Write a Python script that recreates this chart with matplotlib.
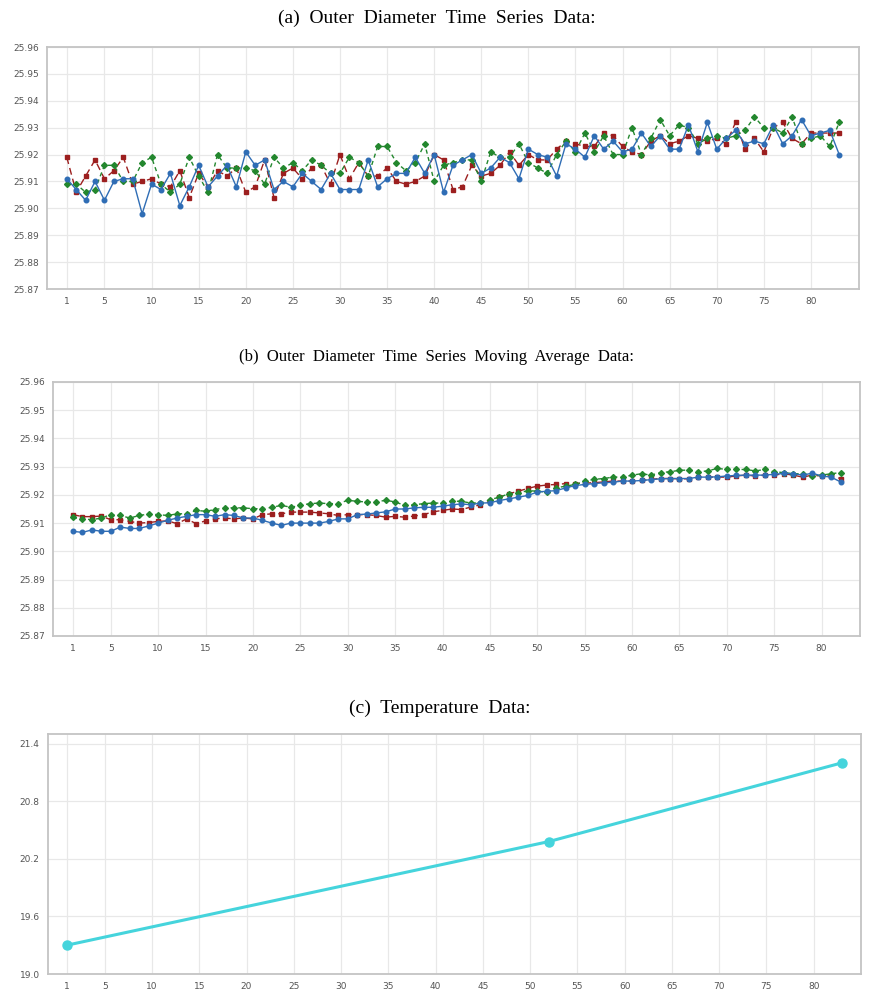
import matplotlib
matplotlib.use("Agg")
import matplotlib.pyplot as plt

# ---------------- data ----------------
x_a = list(range(1, 84))
od_blue = [25.911, 25.907, 25.903, 25.910, 25.903, 25.910, 25.911, 25.911, 25.898, 25.909,
           25.907, 25.913, 25.901, 25.908, 25.916, 25.908, 25.912, 25.916, 25.908, 25.921,
           25.916, 25.918, 25.907, 25.910, 25.908, 25.913, 25.910, 25.907, 25.913, 25.907,
           25.907, 25.907, 25.918, 25.908, 25.911, 25.913, 25.913, 25.919, 25.913, 25.920,
           25.906, 25.916, 25.918, 25.920, 25.913, 25.915, 25.919, 25.917, 25.911, 25.922,
           25.920, 25.919, 25.912, 25.924, 25.922, 25.919, 25.927, 25.922, 25.925, 25.921,
           25.922, 25.928, 25.923, 25.927, 25.922, 25.922, 25.931, 25.921, 25.932, 25.922,
           25.926, 25.929, 25.924, 25.925, 25.924, 25.931, 25.924, 25.927, 25.933, 25.927,
           25.928, 25.929, 25.920]
od_red = [25.919, 25.906, 25.912, 25.918, 25.911, 25.914, 25.919, 25.909, 25.910, 25.911,
          25.909, 25.908, 25.914, 25.904, 25.913, 25.908, 25.914, 25.912, 25.915, 25.906,
          25.908, 25.918, 25.904, 25.913, 25.915, 25.911, 25.915, 25.916, 25.909, 25.920,
          25.911, 25.917, 25.912, 25.912, 25.915, 25.910, 25.909, 25.910, 25.912, 25.920,
          25.918, 25.907, 25.908, 25.916, 25.912, 25.913, 25.916, 25.921, 25.916, 25.920,
          25.918, 25.918, 25.922, 25.925, 25.924, 25.923, 25.923, 25.928, 25.927, 25.923,
          25.921, 25.920, 25.925, 25.927, 25.924, 25.925, 25.927, 25.926, 25.925, 25.926,
          25.924, 25.932, 25.922, 25.926, 25.921, 25.930, 25.932, 25.926, 25.924, 25.928,
          25.928, 25.928, 25.928]
od_green = [25.909, 25.909, 25.906, 25.907, 25.916, 25.916, 25.910, 25.910, 25.917, 25.919,
            25.909, 25.906, 25.909, 25.919, 25.912, 25.906, 25.920, 25.915, 25.915, 25.915,
            25.914, 25.909, 25.919, 25.915, 25.917, 25.914, 25.918, 25.916, 25.913, 25.913,
            25.919, 25.917, 25.912, 25.923, 25.923, 25.917, 25.914, 25.917, 25.924, 25.910,
            25.916, 25.917, 25.918, 25.918, 25.910, 25.921, 25.919, 25.919, 25.924, 25.917,
            25.915, 25.913, 25.920, 25.925, 25.921, 25.928, 25.921, 25.927, 25.920, 25.920,
            25.930, 25.920, 25.926, 25.933, 25.927, 25.931, 25.930, 25.924, 25.926, 25.927,
            25.926, 25.927, 25.929, 25.934, 25.930, 25.930, 25.928, 25.934, 25.924, 25.926,
            25.927, 25.923, 25.932]

x_b = list(range(1, 83))
ma_blue = [25.9071, 25.9067, 25.9076, 25.9071, 25.9071, 25.9086, 25.9081, 25.9081, 25.9090, 25.9100,
           25.9110, 25.9118, 25.9124, 25.9130, 25.9130, 25.9124, 25.9130, 25.9127, 25.9118, 25.9118,
           25.9110, 25.9100, 25.9092, 25.9100, 25.9100, 25.9100, 25.9100, 25.9106, 25.9115, 25.9115,
           25.9130, 25.9132, 25.9136, 25.9140, 25.9150, 25.9150, 25.9154, 25.9156, 25.9156, 25.9160,
           25.9165, 25.9168, 25.9165, 25.9171, 25.9172, 25.9180, 25.9186, 25.9192, 25.9198, 25.9210,
           25.9213, 25.9215, 25.9225, 25.9233, 25.9237, 25.9240, 25.9243, 25.9245, 25.9249, 25.9249,
           25.9251, 25.9254, 25.9257, 25.9258, 25.9258, 25.9258, 25.9263, 25.9263, 25.9264, 25.9267,
           25.9269, 25.9270, 25.9270, 25.9270, 25.9273, 25.9276, 25.9275, 25.9270, 25.9277, 25.9267,
           25.9263, 25.9246]
ma_red = [25.9130, 25.9123, 25.9123, 25.9125, 25.9112, 25.9112, 25.9106, 25.9100, 25.9102, 25.9106,
          25.9108, 25.9098, 25.9115, 25.9098, 25.9108, 25.9115, 25.9118, 25.9115, 25.9118, 25.9115,
          25.9130, 25.9133, 25.9133, 25.9139, 25.9139, 25.9139, 25.9136, 25.9133, 25.9127, 25.9130,
          25.9130, 25.9130, 25.9127, 25.9121, 25.9124, 25.9121, 25.9125, 25.9130, 25.9140, 25.9145,
          25.9150, 25.9148, 25.9157, 25.9165, 25.9177, 25.9192, 25.9204, 25.9213, 25.9223, 25.9231,
          25.9235, 25.9237, 25.9240, 25.9240, 25.9242, 25.9243, 25.9246, 25.9249, 25.9249, 25.9249,
          25.9251, 25.9255, 25.9258, 25.9258, 25.9257, 25.9257, 25.9263, 25.9263, 25.9263, 25.9263,
          25.9267, 25.9270, 25.9267, 25.9270, 25.9270, 25.9275, 25.9270, 25.9263, 25.9270, 25.9267,
          25.9267, 25.9258]
ma_green = [25.9120, 25.9115, 25.9112, 25.9118, 25.9130, 25.9127, 25.9118, 25.9127, 25.9132, 25.9130,
            25.9127, 25.9133, 25.9133, 25.9145, 25.9142, 25.9148, 25.9154, 25.9154, 25.9154, 25.9151,
            25.9151, 25.9156, 25.9163, 25.9156, 25.9163, 25.9169, 25.9171, 25.9169, 25.9169, 25.9181,
            25.9177, 25.9175, 25.9175, 25.9181, 25.9175, 25.9163, 25.9165, 25.9169, 25.9171, 25.9171,
            25.9178, 25.9177, 25.9171, 25.9171, 25.9183, 25.9192, 25.9204, 25.9207, 25.9215, 25.9213,
            25.9210, 25.9225, 25.9231, 25.9237, 25.9249, 25.9255, 25.9258, 25.9263, 25.9263, 25.9270,
            25.9275, 25.9270, 25.9279, 25.9282, 25.9287, 25.9288, 25.9282, 25.9285, 25.9294, 25.9290,
            25.9290, 25.9290, 25.9285, 25.9290, 25.9282, 25.9279, 25.9275, 25.9275, 25.9267, 25.9270,
            25.9275, 25.9279]

x_c = [1, 52, 83]
temperature = [19.3, 20.38, 21.2]

x_ticks = [1, 5, 10, 15, 20, 25, 30, 35, 40, 45, 50, 55, 60, 65, 70, 75, 80]
od_yticks = [25.87, 25.88, 25.89, 25.90, 25.91, 25.92, 25.93, 25.94, 25.95, 25.96]
temp_yticks = [19.0, 19.6, 20.2, 20.8, 21.4]

titles = ["(a)  Outer  Diameter  Time  Series  Data:",
          "(b)  Outer  Diameter  Time  Series  Moving  Average  Data:",
          "(c)  Temperature  Data:"]

# ---------------- style ----------------
BLUE = "#2f6db5"
RED = "#9c1f1f"
GREEN = "#23872e"
CYAN = "#45d4dc"
W, H = 872, 996

fig = plt.figure(figsize=(W / 100, H / 100), dpi=100)
fig.patch.set_facecolor("white")


def px_axes(left, top, right, bottom):
    return fig.add_axes([left / W, 1 - bottom / H, (right - left) / W, (bottom - top) / H])


def style(ax, xlim, ylim, yticks, yfmt):
    ax.set_xlim(*xlim)
    ax.set_ylim(*ylim)
    ax.set_xticks(x_ticks)
    ax.set_xticklabels([str(t) for t in x_ticks])
    ax.set_yticks(yticks)
    ax.set_yticklabels([yfmt.format(v) for v in yticks])
    ax.grid(True, color="#e8e8e8", linewidth=0.9)
    ax.set_axisbelow(True)
    ax.tick_params(axis="both", length=0, labelsize=6.5, colors="#555555", pad=6)
    for s in ax.spines.values():
        s.set_color("#c4c4c4")
        s.set_linewidth(1.3)


# (a)
ax1 = px_axes(47, 47, 859, 289)
ax1.plot(x_a, od_blue, color=BLUE, lw=1.0, marker="o", ms=3.3, zorder=3)
ax1.plot(x_a, od_red, color=RED, lw=1.0, ls=(0, (5, 3)), marker="s", ms=3.3, zorder=2)
ax1.plot(x_a, od_green, color=GREEN, lw=1.0, ls=(0, (3, 2.5)), marker="D", ms=3.0, zorder=2)
style(ax1, (-1.1, 85.1), (25.87, 25.96), od_yticks, "{:.2f}")
fig.text(437 / W, 1 - 18 / H, titles[0], ha="center", va="center",
         family="Liberation Serif", fontsize=14)

# (b)
ax2 = px_axes(53, 382, 860, 636)
ax2.plot(x_b, ma_blue, color=BLUE, lw=1.0, marker="o", ms=3.3, zorder=3)
ax2.plot(x_b, ma_red, color=RED, lw=1.0, ls=(0, (5, 3)), marker="s", ms=3.3, zorder=2)
ax2.plot(x_b, ma_green, color=GREEN, lw=1.0, ls=(0, (3, 2.5)), marker="D", ms=3.0, zorder=2)
style(ax2, (-1.1, 84.05), (25.87, 25.96), od_yticks, "{:.2f}")
fig.text(436 / W, 1 - 357 / H, titles[1], ha="center", va="center",
         family="Liberation Serif", fontsize=12)

# (c)
ax3 = px_axes(48, 734, 861, 974)
ax3.plot(x_c, temperature, color=CYAN, lw=2.2, marker="o", ms=6.5, zorder=3)
style(ax3, (-1.0, 85.0), (19.0, 21.5), temp_yticks, "{:.1f}")
fig.text(440 / W, 1 - 708 / H, titles[2], ha="center", va="center",
         family="Liberation Serif", fontsize=14)

fig.savefig("out.png", dpi=100)
